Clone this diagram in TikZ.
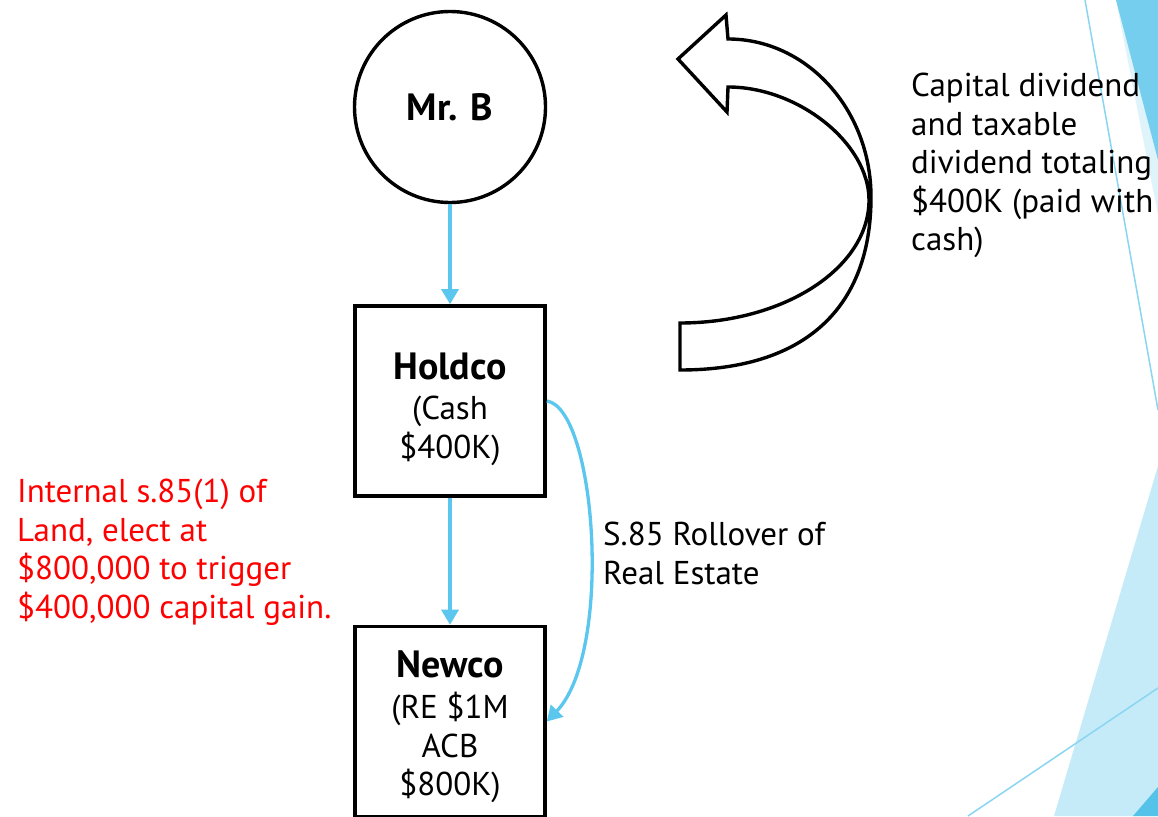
\documentclass[tikz,border=0pt]{standalone}
\usepackage{fontspec}
\setmainfont{PT Sans}
\usetikzlibrary{arrows.meta}

\definecolor{flowblue}{RGB}{91,199,239}
\definecolor{facetdark}{RGB}{118,206,238}
\definecolor{facetpale}{RGB}{223,243,251}
\definecolor{facetlight}{RGB}{197,235,248}
\definecolor{facetdeep}{RGB}{85,194,234}
\definecolor{facetline}{RGB}{138,214,242}
\definecolor{notered}{RGB}{255,0,0}

\newcommand\bodyfont{\fontsize{33}{38.5}\selectfont}
\newcommand\titlefont{\fontsize{38}{41.5}\selectfont\bfseries}

\tikzset{
  entity/.style={draw, line width=3.6pt, minimum width=190pt, minimum height=190pt,
                 inner sep=0pt, align=center, font=\bodyfont},
  person/.style={circle, draw, line width=3.4pt, minimum size=191pt, inner sep=0pt,
                 font=\titlefont},
  flow/.style={draw=flowblue, line width=3.3pt, -{Triangle[width=17pt,length=15pt]}},
  note/.style={anchor=north west, inner sep=0pt, align=left, font=\bodyfont},
  blockarrow/.style={draw, line width=3.4pt, fill=white, line join=miter},
}

\begin{document}
\begin{tikzpicture}[x=1pt, y=-1pt]
  \useasboundingbox (0,0) rectangle (1158,816);
  \fill[white] (0,0) rectangle (1158,816);

  % slide theme facets along the right edge
  \fill[facetpale]  (1116,0) -- (1158,0) -- (1158,215) -- cycle;
  \fill[facetdark]  (1116,0) -- (1158,0) -- (1158,160) -- cycle;
  \fill[facetlight] (1158,466) -- (1158,816) -- (1054,816) -- cycle;
  \fill[facetdeep]  (1158,787) -- (1158,816) -- (1133,816) -- cycle;
  \draw[facetline, line width=1.5pt] (1085,0) -- (1158,410);
  \draw[facetline, line width=1.5pt] (968,816) -- (1158,688);

  % ownership chain (the struts set the text a little below the box centre)
  \node[person] (mrb) at (450,107) {Mr. B};
  \node[entity] (holdco) at (450,401)
    {\rule{0pt}{43pt}{\titlefont Holdco}\\[2pt](Cash\\\$400K)};
  \node[entity] (newco) at (450,721.5)
    {\rule{0pt}{37pt}{\titlefont Newco}\\[3pt](RE \$1M\\ACB\\\$800K)};

  \draw[flow] (mrb) -- (holdco);
  \draw[flow] (holdco) -- (newco);
  \draw[flow] (holdco.east) .. controls +(49,7) and +(67,-70) .. (newco.east);

  % dividend paid back up to Mr. B
  \draw[blockarrow] (680,370) -- (680,323)
    .. controls (784,323) and (869,268) .. (869,200)
    .. controls (869,143.5) and (798.5,87) .. (728,87)
    -- (727,112) -- (678,59) -- (726,15) -- (728,39)
    .. controls (807,39) and (871,109.7) .. (871,197)
    .. controls (871,309) and (804,370) .. (680,370) -- cycle;

  % annotations
  \node[note] (divnote) at (911,73) {Capital dividend\\and taxable\\dividend totaling\\\$400K (paid with\\cash)};
  \node[note] (rollnote) at (603,522) {S.85 Rollover of\\Real Estate};
  \node[note, text=notered] (landnote) at (17,479) {Internal s.85(1) of\\Land, elect at\\\$800,000 to trigger\\\$400,000 capital gain.};
\end{tikzpicture}
\end{document}
